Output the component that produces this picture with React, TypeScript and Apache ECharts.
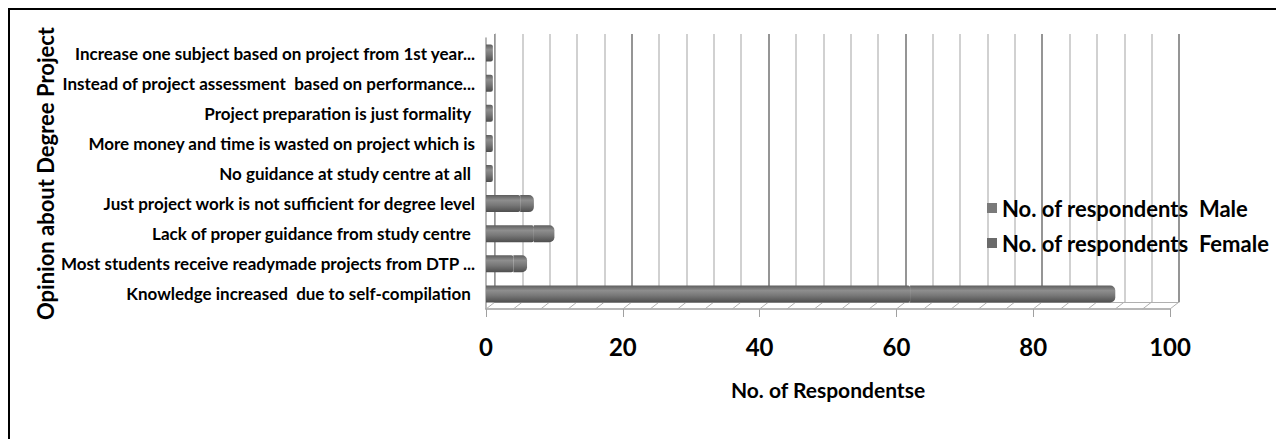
import React, { useEffect, useRef } from "react";
import * as echarts from "echarts";

const categories = [
  "Increase one subject based on project from 1st year...",
  "Instead of project assessment  based on performance...",
  "Project preparation is just formality ",
  "More money and time is wasted on project which is",
  "No guidance at study centre at all ",
  "Just project work is not sufficient for degree level",
  "Lack of proper guidance from study centre ",
  "Most students receive readymade projects from DTP ...",
  "Knowledge increased  due to self-compilation ",
];
const maleValues = [1, 1, 1, 1, 1, 5, 7, 4, 62];
const femaleValues = [0, 0, 0, 0, 0, 2, 3, 2, 30];
const floorTicks = [0, 4, 8, 12, 16, 20, 24, 28, 32, 36, 40, 44, 48, 52, 56, 60, 64, 68, 72, 76, 80, 84, 88, 92, 96, 100];
const seriesNames = ["No. of respondents  Male", "No. of respondents  Female"];

const FONT = "Lato, 'Liberation Sans', sans-serif";

export default function App() {
  const ref = useRef<HTMLDivElement>(null);
  useEffect(() => {
    if (!ref.current) return;
    const chart = echarts.init(ref.current, null, { renderer: "svg" });
    const barGrad = new echarts.graphic.LinearGradient(0, 0, 0, 1, [
      { offset: 0, color: "#5e5e5e" },
      { offset: 0.3, color: "#8e8e8e" },
      { offset: 0.6, color: "#777777" },
      { offset: 1, color: "#4e4e4e" },
    ]);
    chart.setOption({
      animation: false,
      backgroundColor: "#ffffff",
      textStyle: { fontFamily: FONT },
      grid: [
        { left: 485, top: 24, width: 684, height: 268 },
        { left: 476, top: 28, width: 684, height: 271 },
      ],
      legend: {
        orient: "vertical",
        left: 972,
        top: 182,
        itemWidth: 10,
        itemHeight: 10,
        itemGap: 13,
        icon: "rect",
        textStyle: { fontSize: 22, fontWeight: "bold", color: "#000", fontFamily: FONT },
        data: [
          { name: seriesNames[0], itemStyle: { color: "#7a7a7a" } },
          { name: seriesNames[1], itemStyle: { color: "#6a6a6a" } },
        ],
      },
      xAxis: [
        {
          gridIndex: 0,
          type: "value",
          min: 0,
          max: 100,
          interval: 4,
          axisLine: { show: true, lineStyle: { color: "#b0b0b0", width: 1 } },
          axisTick: { show: false },
          axisLabel: { show: false },
          splitLine: {
            show: true,
            lineStyle: { color: ["#8a8a8a", "#cccccc", "#cccccc", "#cccccc", "#cccccc"], width: 1.8 },
          },
        },
        {
          gridIndex: 1,
          type: "value",
          min: 0,
          max: 100,
          interval: 20,
          axisLine: { show: true, lineStyle: { color: "#a0a0a0", width: 1.5 } },
          axisTick: { show: true, length: 8, lineStyle: { color: "#a0a0a0" } },
          axisLabel: {
            margin: 25,
            fontSize: 24,
            fontWeight: "bold",
            color: "#000",
            fontFamily: FONT,
          },
          splitLine: { show: false },
          name: "No. of Respondentse",
          nameLocation: "middle",
          nameGap: 70,
          nameMoveOverlap: false,
          nameTextStyle: { fontSize: 21, fontWeight: "bold", color: "#000", fontFamily: FONT },
        },
      ],
      yAxis: [
        {
          gridIndex: 0,
          type: "category",
          data: categories,
          inverse: true,
          axisLine: { show: true, lineStyle: { color: "#b0b0b0" } },
          axisTick: { show: false },
          axisLabel: { show: false },
        },
        {
          gridIndex: 1,
          type: "category",
          data: categories,
          inverse: true,
          axisLine: { show: true, lineStyle: { color: "#a0a0a0", width: 1.5 } },
          axisTick: { show: false },
          axisLabel: {
            margin: 11,
            fontSize: 17,
            fontWeight: "bold",
            color: "#000",
            fontFamily: FONT,
          },
          name: "Opinion about Degree Project",
          nameLocation: "middle",
          nameRotate: 90,
          nameGap: 430,
          nameMoveOverlap: false,
          nameTextStyle: { fontSize: 22, fontWeight: "bold", color: "#000", fontFamily: FONT },
        },
      ],
      series: [
        {
          type: "custom",
          xAxisIndex: 1,
          yAxisIndex: 1,
          silent: true,
          encode: { x: 0, y: 1 },
          data: floorTicks.map((v) => [v, 0]),
          renderItem: (params: any, api: any) => {
            const x = api.coord([api.value(0), 0])[0];
            const cs = params.coordSys;
            const y = cs.y + cs.height;
            return {
              type: "line",
              shape: { x1: x, y1: y, x2: x + 9, y2: y - 7 },
              style: { stroke: "#b0b0b0", lineWidth: 1 },
            };
          },
          z: 1,
        },
        {
          name: seriesNames[0],
          type: "bar",
          xAxisIndex: 1,
          yAxisIndex: 1,
          stack: "total",
          barWidth: 17,
          data: maleValues,
          itemStyle: { color: barGrad, borderRadius: [0, 2, 2, 0] },
          z: 3,
        },
        {
          name: seriesNames[1],
          type: "bar",
          xAxisIndex: 1,
          yAxisIndex: 1,
          stack: "total",
          barWidth: 17,
          data: femaleValues,
          itemStyle: { color: barGrad, borderRadius: [0, 5, 5, 0] },
          z: 3,
        },
      ],
    });
    return () => chart.dispose();
  }, []);
  return (
    <div
      style={{
        width: 1276,
        height: 431,
        boxSizing: "border-box",
        borderTop: "2px solid #000",
        borderLeft: "2px solid #000",
      }}
    >
      <div ref={ref} style={{ width: 1274, height: 429 }} />
    </div>
  );
}
